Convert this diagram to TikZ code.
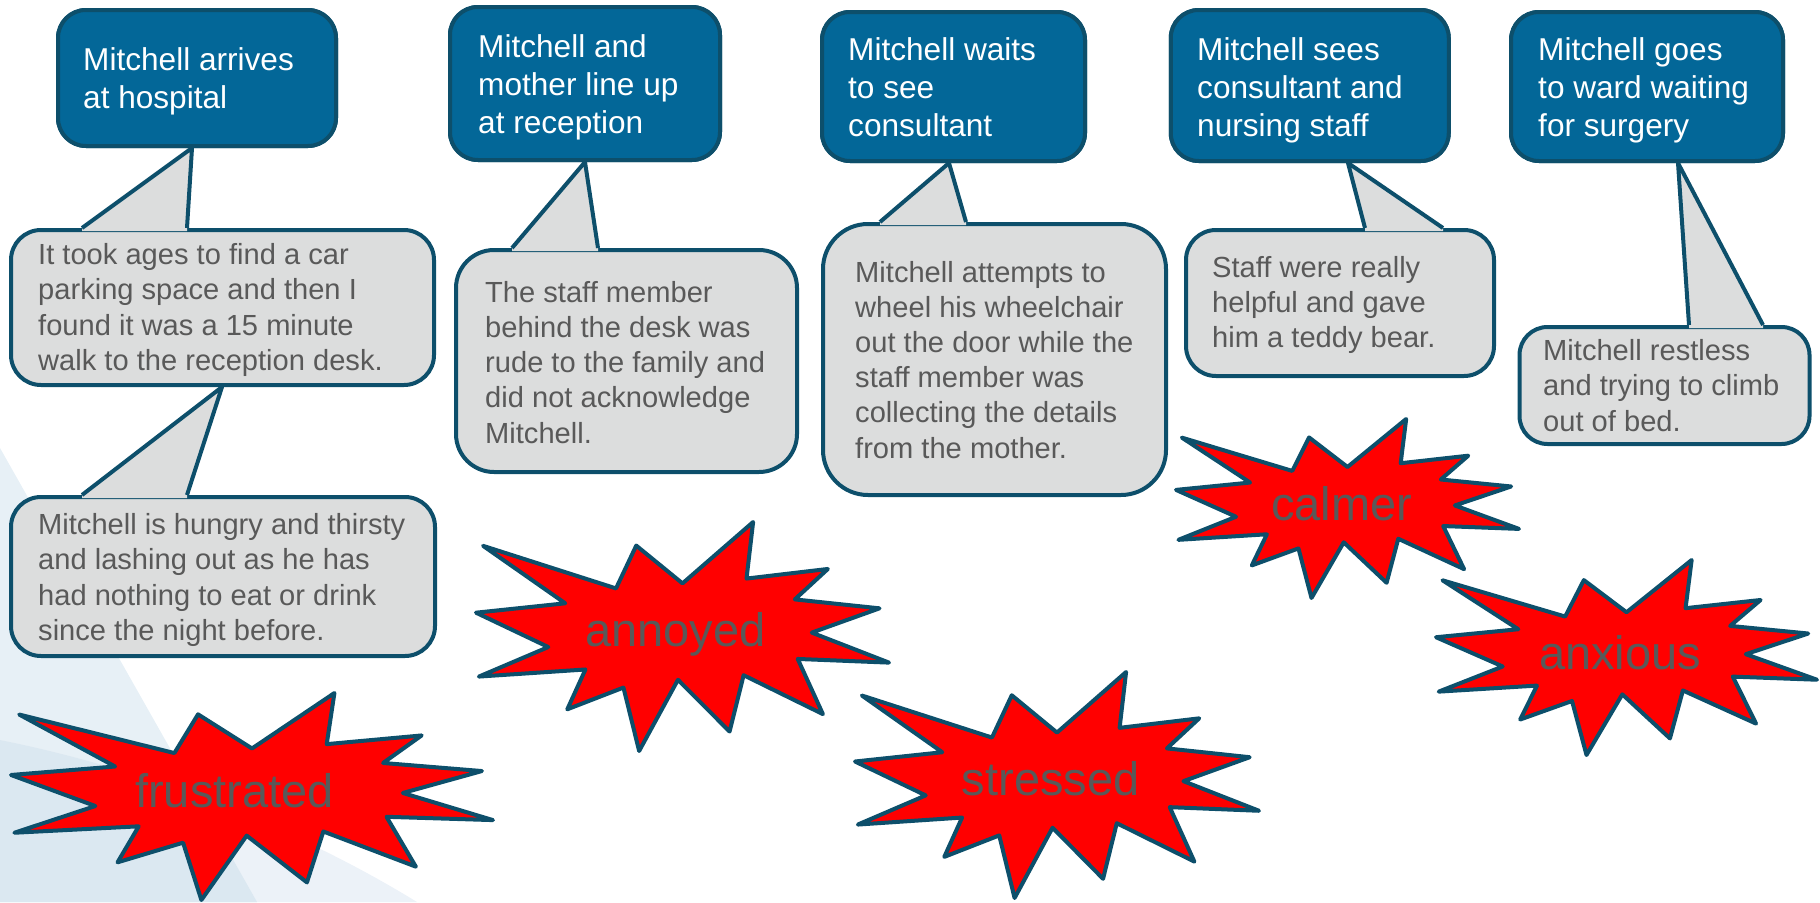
\documentclass[tikz,border=0pt]{standalone}
\usepackage{fontspec}
\setmainfont{Liberation Sans}

\definecolor{boxblue}{RGB}{3,103,152}
\definecolor{edge}{RGB}{13,79,107}
\definecolor{callgray}{RGB}{220,221,221}
\definecolor{textgray}{RGB}{89,89,89}
\definecolor{bgA}{RGB}{231,240,246}
\definecolor{bgC}{RGB}{236,242,248}
\definecolor{bgAC}{RGB}{219,232,241}

\tikzset{
  bluebox/.style={draw=edge, fill=boxblue, line width=4pt, rounded corners=28pt, inner sep=0pt},
  notebox/.style={draw=edge, fill=callgray, line width=4pt, inner sep=0pt},
  edgeline/.style={draw=edge, line width=4pt, line join=round},
  burst/.style={draw=edge, fill=red, line width=4pt, line join=round},
  % multi-line texts are placed by the baseline of their last line
  headtext/.style={text=white, font=\fontsize{31.6}{38}\selectfont, align=left, inner sep=0pt, anchor=base west},
  notetext/.style={text=textgray, font=\fontsize{29.1}{35.2}\selectfont, align=left, inner sep=0pt, anchor=base west},
  burstlabel/.style={text=textgray, font=\fontsize{47}{56}\selectfont, inner sep=0pt, anchor=base},
}

% tail of a speech bubble: bubble node, left and right base x, apex x, node the apex touches
\newcommand\calltail[5]{%
  \fill[callgray] (#2,0 |- #1.north) -- (#4,0 |- #5.south) -- (#3,0 |- #1.north)
     -- ++(0,3) -- ++({#2-#3},0) -- cycle;
  \draw[edgeline] (#2,0 |- #1.north) -- (#4,0 |- #5.south) -- (#3,0 |- #1.north);
}

% explosion shape fitted into a box: left, top, width, height
\newcommand\burstshape[4]{%
  \begin{scope}[shift={(#1,#2)}, x=#3pt, y=-#4pt]
    \draw[burst] (0.017,0.104) -- (0.339,0.290) -- (0.388,0.103) -- (0.500,0.268)
      -- (0.671,0.000) -- (0.655,0.247) -- (0.852,0.205) -- (0.772,0.338)
      -- (0.977,0.377) -- (0.813,0.483) -- (1.000,0.614) -- (0.779,0.598)
      -- (0.840,0.839) -- (0.648,0.669) -- (0.614,0.915) -- (0.489,0.689)
      -- (0.395,1.000) -- (0.357,0.723) -- (0.221,0.818) -- (0.265,0.644)
      -- (0.007,0.675) -- (0.175,0.546) -- (0.000,0.396) -- (0.216,0.355) -- cycle;
  \end{scope}}

\begin{document}
\begin{tikzpicture}[x=1pt, y=-1pt]
\useasboundingbox (0,0) rectangle (1820,902);

% soft background wedges in the lower left corner
\fill[bgA] (0,448) -- (257,902) -- (0,902) -- cycle;
\fill[bgC] (0,740) .. controls (150,770) and (300,830) .. (417,902) -- (0,902) -- cycle;
\begin{scope}
  \clip (0,448) -- (257,902) -- (0,902) -- cycle;
  \fill[bgAC] (0,740) .. controls (150,770) and (300,830) .. (417,902) -- (0,902) -- cycle;
\end{scope}

% speech bubbles
\node[notebox, rounded corners=30pt, minimum width=423pt, minimum height=155pt] (c1) at (222.5,307.5) {};
\node[notebox, rounded corners=30pt, minimum width=424pt, minimum height=159pt] (c2) at (223,576.5) {};
\node[notebox, rounded corners=38pt, minimum width=341pt, minimum height=222pt] (c3) at (626.5,361) {};
\node[notebox, rounded corners=45pt, minimum width=343pt, minimum height=271pt] (c4) at (994.5,359.5) {};
\node[notebox, rounded corners=30pt, minimum width=308pt, minimum height=146pt] (c5) at (1340,303) {};
\node[notebox, rounded corners=28pt, minimum width=290pt, minimum height=117pt] (c6) at (1664.5,385.5) {};

% step boxes
\node[bluebox, minimum width=278pt, minimum height=136pt] (b1) at (197,78) {};
\node[bluebox, minimum width=270pt, minimum height=153pt] (b2) at (585,83.5) {};
\node[bluebox, minimum width=263pt, minimum height=149pt] (b3) at (953.5,86.5) {};
\node[bluebox, minimum width=278pt, minimum height=151pt] (b4) at (1309.75,85.5) {};
\node[bluebox, minimum width=272pt, minimum height=149pt] (b5) at (1647,86.5) {};

% bubble tails
\calltail{c1}{82}{187}{192}{b1}
\calltail{c2}{82}{187}{222}{c1}
\calltail{c3}{512}{598}{585}{b2}
\calltail{c4}{880}{966}{949}{b3}
\calltail{c5}{1365}{1443}{1348}{b4}
\calltail{c6}{1689}{1763}{1678}{b5}

% redraw step boxes over the tail tips
\node[bluebox, minimum width=278pt, minimum height=136pt] at (b1) {};
\node[bluebox, minimum width=270pt, minimum height=153pt] at (b2) {};
\node[bluebox, minimum width=263pt, minimum height=149pt] at (b3) {};
\node[bluebox, minimum width=278pt, minimum height=151pt] at (b4) {};
\node[bluebox, minimum width=272pt, minimum height=149pt] at (b5) {};

% step texts
\node[headtext] (h1) at (83,108.5) {Mitchell arrives\\at hospital};
\node[headtext] (h2) at (478,133) {Mitchell and\\mother line up\\at reception};
\node[headtext] (h3) at (848,136.5) {Mitchell waits\\to see\\consultant};
\node[headtext] (h4) at (1197,136.5) {Mitchell sees\\consultant and\\nursing staff};
\node[headtext] (h5) at (1538,136.5) {Mitchell goes\\to ward waiting\\for surgery};

% bubble texts
\node[notetext] (n1) at (38,370.3) {It took ages to find a car\\parking space and then I\\found it was a 15 minute\\walk to the reception desk.};
\node[notetext] (n2) at (38,640.3) {Mitchell is hungry and thirsty\\and lashing out as he has\\had nothing to eat or drink\\since the night before.};
\node[notetext] (n3) at (485,443) {The staff member\\behind the desk was\\rude to the family and\\did not acknowledge\\Mitchell.};
\node[notetext] (n4) at (855,458) {Mitchell attempts to\\wheel his wheelchair\\out the door while the\\staff member was\\collecting the details\\from the mother.};
\node[notetext] (n5) at (1212,347.7) {Staff were really\\helpful and gave\\him a teddy bear.};
\node[notetext] (n6) at (1543,431) {Mitchell restless\\and trying to climb\\out of bed.};

% feelings
\burstshape{11}{693}{482}{207}
\burstshape{476}{522}{413}{229}
\burstshape{855}{672}{404}{226}
\burstshape{1176}{419}{343}{179}
\burstshape{1436}{560}{381}{195}

\node[burstlabel] (f1) at (234.5,807) {frustrated};
\node[burstlabel] (f2) at (675.5,646.7) {annoyed};
\node[burstlabel] (f3) at (1050.8,795.7) {stressed};
\node[burstlabel] (f4) at (1341.7,520.7) {calmer};
\node[burstlabel] (f5) at (1620,669.3) {anxious};
\end{tikzpicture}
\end{document}
